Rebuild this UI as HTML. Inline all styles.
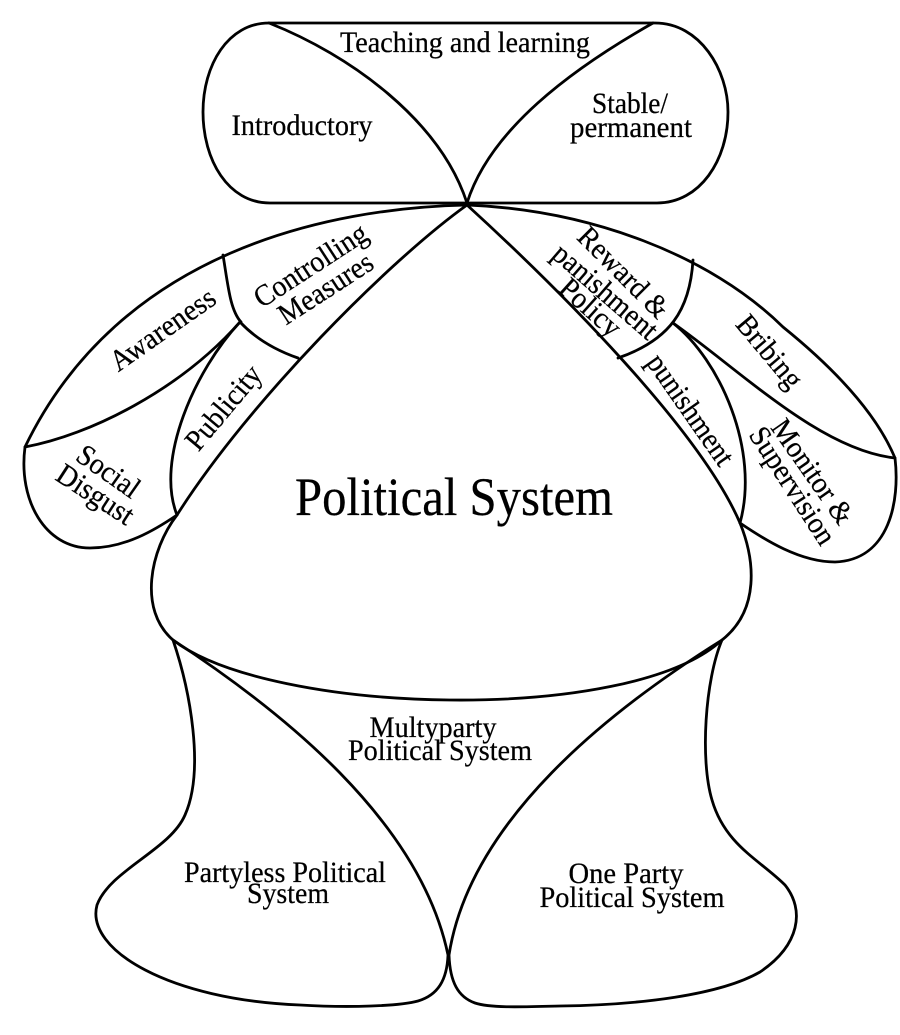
<!DOCTYPE html>
<html>
<head>
<meta charset="utf-8">
<style>
  html, body { margin: 0; padding: 0; background: #fff; }
  svg { display: block; }
  text { font-family: "Liberation Serif", "DejaVu Serif", serif; fill: #000; stroke: #000; stroke-width: 0.25; }
</style>
</head>
<body>
<svg width="900" height="1035" viewBox="0 0 900 1035" xmlns="http://www.w3.org/2000/svg">
  <rect width="900" height="1035" fill="#fff"/>
  <g fill="none" stroke="#000" stroke-width="2.8" stroke-linejoin="round" stroke-linecap="round">
    <!-- Top shape -->
    <path d="M 269,23 L 655,23 C 700,23 728,70 728,112 C 728,160 700,203 657,203 L 270,203 C 228,203 203,160 203,112 C 203,65 228,23 269,23 Z"/>
    <path d="M 269,23 C 350,55 440,120 467,203"/>
    <path d="M 653,23 C 570,70 490,130 467,203"/>

    <!-- Central shape -->
    <path d="M 467,205 C 390,260 250,400 177,515 C 150,550 138,610 173,640 C 270,715 630,725 722,640 C 760,610 755,560 740,523 C 700,430 560,290 467,205 Z"/>

    <!-- Left lobe -->
    <path d="M 467,205 C 330,208 120,250 25,447 C 18,500 45,548 90,548 C 125,548 155,530 177,515"/>
    <path d="M 25,447 C 90,435 180,390 240,322"/>
    <path d="M 223,255 C 228,285 230,310 241,322"/>
    <path d="M 240,322 C 255,338 275,350 298,358"/>
    <path d="M 240,322 C 195,370 155,460 177,515"/>

    <!-- Right lobe -->
    <path d="M 467,205 C 590,210 710,255 783,327 C 830,365 875,410 895,458 C 900,500 890,560 835,562 C 800,562 765,540 740,523"/>
    <path d="M 693,260 C 690,310 670,340 618,358"/>
    <path d="M 673,323 C 740,370 820,450 895,458"/>
    <path d="M 673,323 C 720,360 760,450 740,523"/>

    <!-- Bottom left shape -->
    <path d="M 173,640 C 190,690 205,770 185,815 C 170,850 110,870 97,905 C 85,950 170,1000 300,1005 C 350,1008 400,1006 418,1001 C 438,995 447,980 448,955 C 420,820 280,710 173,640 Z"/>
    <!-- Bottom right shape -->
    <path d="M 722,640 C 705,680 700,760 712,800 C 725,845 760,860 785,885 C 805,910 800,945 760,972 C 720,995 640,1005 560,1006 C 520,1007 490,1008 475,1003 C 458,997 450,982 449,955 C 470,820 610,710 722,640 Z"/>
  </g>

  <g font-size="30" text-anchor="middle">
    <!-- top -->
    <text x="465" y="52" textLength="250" lengthAdjust="spacingAndGlyphs">Teaching and learning</text>
    <text x="302" y="135" textLength="141" lengthAdjust="spacingAndGlyphs">Introductory</text>
    <text x="630" y="113" textLength="76" lengthAdjust="spacingAndGlyphs">Stable/</text>
    <text x="631" y="137" textLength="122" lengthAdjust="spacingAndGlyphs">permanent</text>

    <!-- center -->
    <text x="454" y="515" font-size="54" textLength="318" lengthAdjust="spacingAndGlyphs">Political System</text>

    <!-- left lobe -->
    <text transform="translate(163,330) rotate(-35)" x="0" y="9" textLength="122" lengthAdjust="spacingAndGlyphs">Awareness</text>
    <text transform="translate(311,266) rotate(-33)" x="0" y="9" textLength="129" lengthAdjust="spacingAndGlyphs">Controlling</text>
    <text transform="translate(326,289) rotate(-33)" x="0" y="9" textLength="107" lengthAdjust="spacingAndGlyphs">Measures</text>
    <text transform="translate(224,408) rotate(-50)" x="0" y="9" textLength="101" lengthAdjust="spacingAndGlyphs">Publicity</text>
    <text transform="translate(108,472) rotate(35)" x="0" y="9" textLength="70" lengthAdjust="spacingAndGlyphs">Social</text>
    <text transform="translate(95,495) rotate(33)" x="0" y="9" textLength="86" lengthAdjust="spacingAndGlyphs">Disgust</text>

    <!-- right lobe -->
    <text transform="translate(623,273) rotate(45)" x="0" y="9" textLength="116" lengthAdjust="spacingAndGlyphs">Reward &amp;</text>
    <text transform="translate(605,292) rotate(41)" x="0" y="9" textLength="129" lengthAdjust="spacingAndGlyphs">panishment</text>
    <text transform="translate(590,308) rotate(42)" x="0" y="9" textLength="72" lengthAdjust="spacingAndGlyphs">Policy</text>
    <text transform="translate(769,352) rotate(50)" x="0" y="9" textLength="86" lengthAdjust="spacingAndGlyphs">Bribing</text>
    <text transform="translate(690,410) rotate(55)" x="0" y="9" textLength="129" lengthAdjust="spacingAndGlyphs">punishment</text>
    <text transform="translate(812,472) rotate(55)" x="0" y="9" textLength="121" lengthAdjust="spacingAndGlyphs">Monitor &amp;</text>
    <text transform="translate(792,486) rotate(57)" x="0" y="9" textLength="134" lengthAdjust="spacingAndGlyphs">Supervision</text>

    <!-- bottom -->
    <text x="433" y="737" textLength="127" lengthAdjust="spacingAndGlyphs">Multyparty</text>
    <text x="440" y="760" textLength="184" lengthAdjust="spacingAndGlyphs">Political System</text>
    <text x="285" y="882" textLength="202" lengthAdjust="spacingAndGlyphs">Partyless Political</text>
    <text x="288" y="903" textLength="82" lengthAdjust="spacingAndGlyphs">System</text>
    <text x="626" y="883" textLength="115" lengthAdjust="spacingAndGlyphs">One Party</text>
    <text x="632" y="907" textLength="185" lengthAdjust="spacingAndGlyphs">Political System</text>
  </g>
</svg>
</body>
</html>
